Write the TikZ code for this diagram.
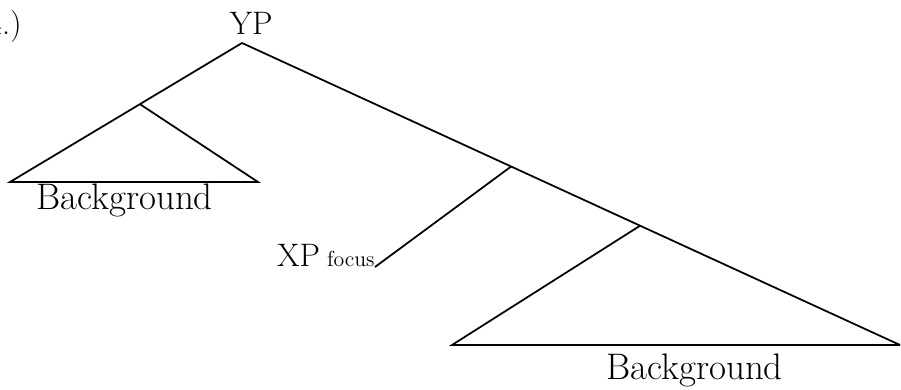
\documentclass[tikz,border=0pt]{standalone}
\usepackage{tikz}
\usetikzlibrary{calc, positioning}

\begin{document}
\begin{tikzpicture}[
        branch/.style={black, line width=1pt, line join=miter},
        phrase/.style={font=\fontsize{18.5}{21}\selectfont, inner sep=0pt},
        bgword/.style={font=\fontsize{21}{24}\selectfont, inner sep=0pt}
    ]

    \useasboundingbox (0,0) rectangle (18.02,7.8);

    % example number and root
    \node[phrase, anchor=base east] (num) at (0.44, 7.10) {4.)};
    \coordinate (top) at (4.84, 6.94);
    \node[phrase, anchor=base] (yp) at (5.02, 7.10) {YP};

    % left background triangle
    \coordinate (lleft) at (0.20, 4.16);
    \coordinate (lright) at (5.16, 4.16);
    \coordinate (lmid) at ($(top)!0.44!(lleft)$);
    \node[bgword, anchor=base] (bgleft) at (2.49, 3.60) {Background};

    % spine
    \coordinate (bright) at (18.00, 0.90);
    \coordinate (j1) at ($(top)!0.409!(bright)$);
    \coordinate (j2) at ($(top)!0.605!(bright)$);

    \node[phrase, anchor=base east] (xp) at (7.50, 2.46)
        {XP\hspace{4pt}{\fontsize{12.4}{14}\selectfont focus}};

    % right background triangle
    \coordinate (bleft) at (9.04, 0.90);
    \node[bgword, anchor=base] (bgright) at (13.89, 0.20) {Background};

    \draw[branch] (top) -- (lleft) -- (lright) -- (lmid);
    \draw[branch] (top) -- (bright);
    \draw[branch] (j1) -- (xp.base east);
    \draw[branch] (j2) -- (bleft) -- (bright);

\end{tikzpicture}
\end{document}
